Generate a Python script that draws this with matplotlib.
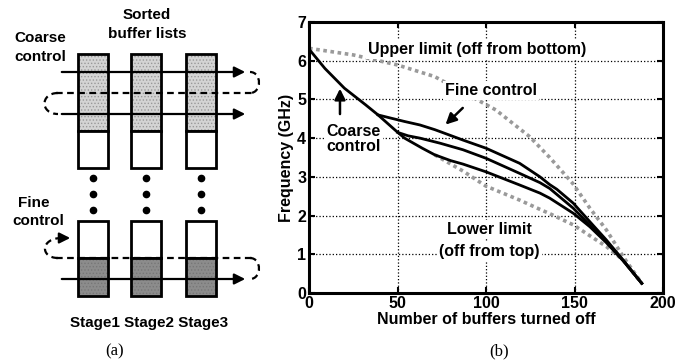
import numpy as np
import matplotlib.pyplot as plt
from matplotlib.patches import Rectangle
from matplotlib.path import Path
from matplotlib.patches import PathPatch

plt.rcParams['font.family'] = ['Liberation Sans', 'DejaVu Sans']
plt.rcParams['font.weight'] = 'bold'
plt.rcParams['hatch.linewidth'] = 0.6

# chart (b) data
coarse_x = [0, 9, 20, 32, 39, 48.6, 54, 64, 71, 80, 87, 100, 119, 130.5, 136, 149.3, 158.7, 168, 177.5, 188]
coarse_y = [6.3, 5.8, 5.29, 4.86, 4.6, 4.21, 4.0, 3.74, 3.57, 3.42, 3.33, 3.13, 2.79, 2.58, 2.45, 2.06, 1.71, 1.3, 0.83, 0.25]
fine_hi_x = [39, 46, 54, 62.7, 71, 74, 87, 100, 119, 130.5, 136, 140, 149.3, 158.7, 168, 177.5, 188]
fine_hi_y = [4.6, 4.52, 4.43, 4.34, 4.22, 4.17, 3.95, 3.74, 3.35, 3.0, 2.8, 2.68, 2.32, 1.84, 1.37, 0.85, 0.25]
fine_mid_x = [50, 56, 62.7, 74, 87, 100, 119, 130.5, 136, 149.3, 158.7, 168, 177.5, 188]
fine_mid_y = [4.15, 4.06, 4.0, 3.87, 3.7, 3.48, 3.09, 2.85, 2.7, 2.19, 1.75, 1.33, 0.84, 0.25]
upper_x = [0, 25, 50, 71, 105.5, 124.6, 136, 149, 158.7, 168, 177.5, 188]
upper_y = [6.32, 6.15, 5.89, 5.59, 4.73, 4.04, 3.5, 2.83, 2.19, 1.63, 0.94, 0.25]
lower_x = [71, 87, 100, 119, 130.5, 136, 149.3, 168, 177.5, 188]
lower_y = [3.57, 3.15, 2.76, 2.4, 2.16, 2.05, 1.76, 1.2, 0.85, 0.25]

# diagram (a) layout in pixels
col_left = [78, 131, 186]
col_w = 30
stage_labels = 'Stage1 Stage2 Stage3'

fig = plt.figure(figsize=(6.89, 3.62), dpi=100)

# ---- overlay for diagram (a) ----
ov = fig.add_axes([0, 0, 1, 1])
ov.set_xlim(0, 689)
ov.set_ylim(362, 0)
ov.axis('off')

for xl in col_left:
    ov.add_patch(Rectangle((xl, 54), col_w, 77, facecolor='#d4d4d4', edgecolor='#999999',
                           hatch='.....', lw=0))
    ov.add_patch(Rectangle((xl, 54), col_w, 77, facecolor='none', edgecolor='black', lw=2))
    ov.add_patch(Rectangle((xl, 131), col_w, 37, facecolor='white', edgecolor='black', lw=2))
    ov.add_patch(Rectangle((xl, 221), col_w, 37, facecolor='white', edgecolor='black', lw=2))
    ov.add_patch(Rectangle((xl, 258), col_w, 38, facecolor='#8c8c8c', edgecolor='#777777',
                           hatch='.....', lw=0))
    ov.add_patch(Rectangle((xl, 258), col_w, 38, facecolor='none', edgecolor='black', lw=2))
    cx = xl + col_w / 2
    for yd in [178, 194, 210]:
        ov.plot(cx, yd, 'o', color='black', ms=4.5)

# top lines
ov.annotate('', xy=(248, 72), xytext=(59, 72),
            arrowprops=dict(arrowstyle='-|>', color='black', lw=1.6, mutation_scale=16))
ov.annotate('', xy=(248, 114), xytext=(59, 114),
            arrowprops=dict(arrowstyle='-|>', color='black', lw=1.6, mutation_scale=16))
ov.plot([56, 252], [93, 93], color='black', lw=1.6, ls=(0, (3, 2)))
# right loop 72 -> 93
ov.add_patch(PathPatch(Path([(250, 72), (262, 72), (262, 93), (250, 93)],
                            [Path.MOVETO, Path.CURVE4, Path.CURVE4, Path.CURVE4]),
                       fill=False, lw=1.6, ls=(0, (3, 2))))
# left loop 93 -> 114
ov.add_patch(PathPatch(Path([(58, 93), (40, 93), (40, 114), (58, 114)],
                            [Path.MOVETO, Path.CURVE4, Path.CURVE4, Path.CURVE4]),
                       fill=False, lw=1.6, ls=(0, (3, 2))))

# bottom lines
ov.plot([56, 252], [258, 258], color='black', lw=1.6, ls=(0, (3, 2)))
ov.annotate('', xy=(248, 279), xytext=(59, 279),
            arrowprops=dict(arrowstyle='-|>', color='black', lw=1.6, mutation_scale=16))
ov.add_patch(PathPatch(Path([(250, 258), (262, 258), (262, 279), (250, 279)],
                            [Path.MOVETO, Path.CURVE4, Path.CURVE4, Path.CURVE4]),
                       fill=False, lw=1.6, ls=(0, (3, 2))))
ov.add_patch(PathPatch(Path([(58, 258), (40, 258), (40, 238), (62, 238)],
                            [Path.MOVETO, Path.CURVE4, Path.CURVE4, Path.CURVE4]),
                       fill=False, lw=1.6, ls=(0, (3, 2))))
ov.annotate('', xy=(73, 238), xytext=(60, 238),
            arrowprops=dict(arrowstyle='-|>', color='black', lw=1.6, mutation_scale=16))

tkw = dict(fontsize=11, fontweight='bold', ha='center', va='center')
ov.text(147, 15, 'Sorted', **tkw)
ov.text(147, 34, 'buffer lists', **tkw)
ov.text(40, 38, 'Coarse', **tkw)
ov.text(40, 57, 'control', **tkw)
ov.text(34, 203, 'Fine', **tkw)
ov.text(38, 221, 'control', **tkw)
ov.text(149, 323, stage_labels, **tkw)
ov.text(115, 351, '(a)', fontsize=12, fontweight='normal', ha='center', va='center',
        family=['Liberation Serif', 'DejaVu Serif'])
ov.text(499, 351, '(b)', fontsize=12, fontweight='normal', ha='center', va='center',
        family=['Liberation Serif', 'DejaVu Serif'])

# ---- chart (b) ----
ax = fig.add_axes([309 / 689, 1 - 293 / 362, (663 - 309) / 689, (293 - 22) / 362])
ax.set_xlim(0, 200)
ax.set_ylim(0, 7)
ax.set_xticks([0, 50, 100, 150, 200])
ax.set_yticks(range(8))
ax.grid(True, color='black', ls=':', lw=0.9)
ax.tick_params(direction='in', top=True, right=True, labelsize=11.5, pad=2, length=4, width=1.5)
for lab in ax.get_xticklabels() + ax.get_yticklabels():
    lab.set_fontweight('bold')
for s in ax.spines.values():
    s.set_linewidth(2.2)

gray = '#9a9a9a'
ax.plot(upper_x, upper_y, color=gray, ls=(0, (1, 1)), lw=2.6, zorder=2)
ax.plot(lower_x, lower_y, color=gray, ls=(0, (1, 1)), lw=2.6, zorder=2)
ax.plot(coarse_x, coarse_y, color='black', lw=2.0, zorder=3)
ax.plot(fine_hi_x, fine_hi_y, color='black', lw=2.0, zorder=3)
ax.plot(fine_mid_x, fine_mid_y, color='black', lw=2.0, zorder=3)

ax.set_xlabel('Number of buffers turned off', fontsize=11.5, fontweight='bold', labelpad=1)
ax.set_ylabel('Frequency (GHz)', fontsize=11.5, fontweight='bold', labelpad=2)

bb = dict(facecolor='white', edgecolor='none', pad=1.5)
ax.text(95, 6.3, 'Upper limit (off from bottom)', fontsize=11.5, fontweight='bold',
        ha='center', va='center', bbox=bb, zorder=4)
ax.text(103, 5.22, 'Fine control', fontsize=11.5, fontweight='bold',
        ha='center', va='center', bbox=bb, zorder=4)
ax.text(102, 1.65, 'Lower limit', fontsize=11.5, fontweight='bold',
        ha='center', va='center', bbox=bb, zorder=4)
ax.text(102, 1.08, '(off from top)', fontsize=11.5, fontweight='bold',
        ha='center', va='center', bbox=bb, zorder=4)
ax.text(10, 3.98, 'Coarse\ncontrol', fontsize=11.5, fontweight='bold',
        ha='left', va='center', linespacing=1.0, bbox=bb, zorder=4)
ax.annotate('', xy=(76, 4.3), xytext=(88, 4.83),
            arrowprops=dict(arrowstyle='-|>', color='black', lw=1.8, mutation_scale=16), zorder=5)
ax.annotate('', xy=(17.5, 5.35), xytext=(17.5, 4.55),
            arrowprops=dict(arrowstyle='-|>', color='black', lw=1.8, mutation_scale=16), zorder=5)

fig.savefig('out.png', dpi=100)
